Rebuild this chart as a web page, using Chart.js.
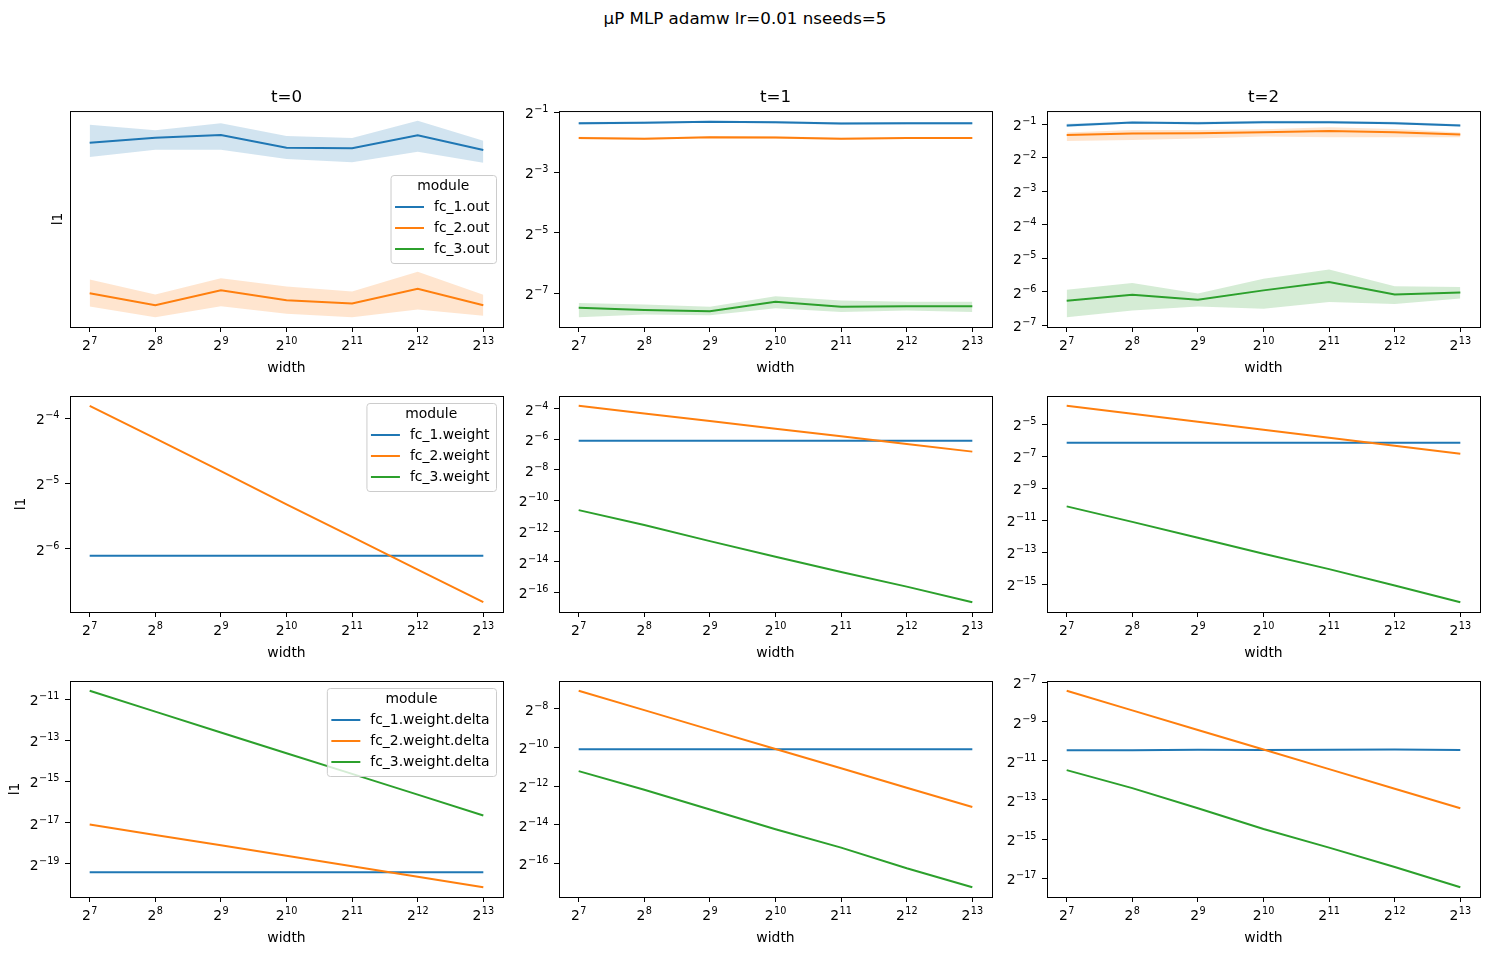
<!DOCTYPE html>
<html>
<head>
<meta charset="utf-8">
<script src="https://cdn.jsdelivr.net/npm/chart.js@4.4.0/dist/chart.umd.min.js"></script>
<style>
  body { margin: 0; background: #fff; width: 1490px; height: 955px; position: relative; overflow: hidden; font-family: 'DejaVu Sans', sans-serif; }
  #suptitle { position: absolute; left: 0; top: 8px; width: 1490px; text-align: center; font-size: 16.7px; line-height: 20px; color: #000; }
  canvas { position: absolute; }
</style>
</head>
<body>
<div id="suptitle">μP MLP adamw lr=0.01 nseeds=5</div>
<script>
// x values and labels
const widths = [128, 256, 512, 1024, 2048, 4096, 8192];
const tTitles = ['t=0', 't=1', 't=2'];
const outNames = ['fc_1.out', 'fc_2.out', 'fc_3.out'];
const weightNames = ['fc_1.weight', 'fc_2.weight', 'fc_3.weight'];
const deltaNames = ['fc_1.weight.delta', 'fc_2.weight.delta', 'fc_3.weight.delta'];

// all values are log2(l1); _lo/_hi are the shaded band edges
// row 1: module outputs
const out0_fc1    = [-1.200, -1.180, -1.169, -1.220, -1.222, -1.170, -1.229];
const out0_fc1_lo = [-1.257, -1.228, -1.228, -1.265, -1.278, -1.236, -1.280];
const out0_fc1_hi = [-1.128, -1.150, -1.122, -1.173, -1.181, -1.112, -1.192];
const out0_fc2    = [-1.804, -1.852, -1.792, -1.832, -1.845, -1.786, -1.852];
const out0_fc2_lo = [-1.857, -1.900, -1.856, -1.886, -1.900, -1.869, -1.894];
const out0_fc2_hi = [-1.749, -1.809, -1.744, -1.777, -1.797, -1.718, -1.810];

const out1_fc1    = [-1.37, -1.35, -1.32, -1.34, -1.38, -1.37, -1.37];
const out1_fc1_lo = [-1.42, -1.39, -1.35, -1.38, -1.42, -1.41, -1.41];
const out1_fc1_hi = [-1.33, -1.31, -1.29, -1.30, -1.34, -1.33, -1.33];
const out1_fc2    = [-1.86, -1.885, -1.83, -1.84, -1.885, -1.86, -1.86];
const out1_fc2_lo = [-1.90, -1.92, -1.86, -1.88, -1.92, -1.89, -1.89];
const out1_fc2_hi = [-1.82, -1.85, -1.80, -1.80, -1.85, -1.83, -1.83];
const out1_fc3    = [-7.49, -7.56, -7.60, -7.29, -7.45, -7.44, -7.44];
const out1_fc3_lo = [-7.80, -7.71, -7.74, -7.50, -7.63, -7.58, -7.63];
const out1_fc3_hi = [-7.33, -7.38, -7.45, -7.11, -7.25, -7.29, -7.29];

const out2_fc1    = [-1.04, -0.95, -0.97, -0.94, -0.94, -0.97, -1.04];
const out2_fc1_lo = [-1.08, -0.98, -1.01, -0.97, -0.98, -1.00, -1.07];
const out2_fc1_hi = [-0.99, -0.92, -0.93, -0.90, -0.90, -0.93, -1.00];
const out2_fc2    = [-1.32, -1.28, -1.27, -1.24, -1.20, -1.24, -1.31];
const out2_fc2_lo = [-1.50, -1.47, -1.43, -1.37, -1.39, -1.39, -1.39];
const out2_fc2_hi = [-1.25, -1.17, -1.17, -1.15, -1.09, -1.14, -1.25];
const out2_fc3    = [-6.27, -6.09, -6.24, -5.96, -5.71, -6.08, -6.02];
const out2_fc3_lo = [-6.76, -6.56, -6.44, -6.51, -6.31, -6.37, -6.20];
const out2_fc3_hi = [-5.94, -5.74, -6.05, -5.61, -5.34, -5.84, -5.86];

// row 2: weights
const w0_fc1 = [-6.11, -6.11, -6.11, -6.11, -6.11, -6.11, -6.11];
const w0_fc2 = [-3.81, -4.31, -4.81, -5.32, -5.82, -6.32, -6.82];
const w1_fc1 = [-6.09, -6.09, -6.09, -6.09, -6.09, -6.09, -6.09];
const w1_fc2 = [-3.80, -4.30, -4.80, -5.30, -5.80, -6.30, -6.80];
const w1_fc3 = [-10.63, -11.61, -12.66, -13.68, -14.68, -15.64, -16.66];
const w2_fc1 = [-6.14, -6.14, -6.14, -6.14, -6.14, -6.14, -6.14];
const w2_fc2 = [-3.83, -4.33, -4.83, -5.33, -5.83, -6.33, -6.83];
const w2_fc3 = [-10.13, -11.10, -12.10, -13.10, -14.06, -15.08, -16.13];

// row 3: weight deltas
const d0_fc1 = [-19.41, -19.41, -19.41, -19.41, -19.41, -19.41, -19.41];
const d0_fc2 = [-17.09, -17.60, -18.10, -18.60, -19.11, -19.62, -20.13];
const d0_fc3 = [-10.60, -11.61, -12.62, -13.63, -14.63, -15.64, -16.65];
const d1_fc1 = [-10.09, -10.09, -10.09, -10.09, -10.09, -10.09, -10.09];
const d1_fc2 = [-7.07, -8.07, -9.08, -10.08, -11.08, -12.09, -13.09];
const d1_fc3 = [-11.23, -12.19, -13.22, -14.24, -15.19, -16.26, -17.24];
const d2_fc1 = [-10.46, -10.46, -10.44, -10.45, -10.44, -10.43, -10.45];
const d2_fc2 = [-7.43, -8.43, -9.43, -10.43, -11.43, -12.43, -13.43];
const d2_fc3 = [-11.48, -12.40, -13.43, -14.49, -15.44, -16.43, -17.46];

// tick exponents (labels are 2^e)
const xTickExps = [7, 8, 9, 10, 11, 12, 13];
const yTicksOut = [[], [-1, -3, -5, -7], [-1, -2, -3, -4, -5, -6, -7]];
const yTicksWeight = [[-4, -5, -6], [-4, -6, -8, -10, -12, -14, -16], [-5, -7, -9, -11, -13, -15]];
const yTicksDelta = [[-11, -13, -15, -17, -19], [-8, -10, -12, -14, -16], [-7, -9, -11, -13, -15, -17]];

const FONT = "'DejaVu Sans', sans-serif";
Chart.defaults.font.family = FONT;
Chart.defaults.color = '#000';

const COLORS = ['#1f77b4', '#ff7f0e', '#2ca02c'];
const BANDS = ['rgba(31,119,180,0.2)', 'rgba(255,127,14,0.2)', 'rgba(44,160,44,0.2)'];

const colLeft = [70, 559, 1047];
const rowTop = [111, 396, 681];
const AX_W = 433, AX_H = 216;
const PAD_L = 70, PAD_T = 30, PAD_R = 20, PAD_B = 52;
const ylabelPad = [50, 13.4, 6.7];

// "2" with a raised exponent, like matplotlib's mathtext tick labels
function drawPow2(ctx, px, baseY, align, e) {
  const exp = String(e).replace('-', '\u2212');
  ctx.font = '13.9px ' + FONT;
  const wb = ctx.measureText('2').width;
  ctx.font = '9.7px ' + FONT;
  const we = ctx.measureText(exp).width;
  const total = wb + 0.5 + we;
  const left = align === 'center' ? px - total / 2 : px - total;
  ctx.textAlign = 'left';
  ctx.textBaseline = 'alphabetic';
  ctx.font = '13.9px ' + FONT;
  ctx.fillText('2', left, baseY);
  ctx.font = '9.7px ' + FONT;
  ctx.fillText(exp, left + wb + 0.5, baseY - 6);
}

function tickLabelPlugin(showY) {
  return {
    id: 'mathTicks',
    afterDraw(chart) {
      const ctx = chart.ctx, a = chart.chartArea;
      const { x, y } = chart.scales;
      ctx.save();
      ctx.fillStyle = '#000';
      x.ticks.forEach(t => drawPow2(ctx, x.getPixelForValue(t.value), a.bottom + 23, 'center', Math.round(Math.log2(t.value))));
      if (showY) {
        y.ticks.forEach(t => drawPow2(ctx, a.left - 10.5, y.getPixelForValue(t.value) + 6, 'right', Math.round(Math.log2(t.value))));
      }
      ctx.restore();
    }
  };
}

// [mean, lo, hi] per module; null where the module has no line
const panels = [
  { row: 0, col: 0, names: outNames, yTicks: yTicksOut[0], legend: 'center right',
    series: [[out0_fc1, out0_fc1_lo, out0_fc1_hi], [out0_fc2, out0_fc2_lo, out0_fc2_hi], null] },
  { row: 0, col: 1, yTicks: yTicksOut[1],
    series: [[out1_fc1, out1_fc1_lo, out1_fc1_hi], [out1_fc2, out1_fc2_lo, out1_fc2_hi], [out1_fc3, out1_fc3_lo, out1_fc3_hi]] },
  { row: 0, col: 2, yTicks: yTicksOut[2],
    series: [[out2_fc1, out2_fc1_lo, out2_fc1_hi], [out2_fc2, out2_fc2_lo, out2_fc2_hi], [out2_fc3, out2_fc3_lo, out2_fc3_hi]] },
  { row: 1, col: 0, names: weightNames, yTicks: yTicksWeight[0], legend: 'upper right',
    series: [[w0_fc1], [w0_fc2], null] },
  { row: 1, col: 1, yTicks: yTicksWeight[1], series: [[w1_fc1], [w1_fc2], [w1_fc3]] },
  { row: 1, col: 2, yTicks: yTicksWeight[2], series: [[w2_fc1], [w2_fc2], [w2_fc3]] },
  { row: 2, col: 0, names: deltaNames, yTicks: yTicksDelta[0], legend: 'upper right',
    series: [[d0_fc1], [d0_fc2], [d0_fc3]] },
  { row: 2, col: 1, yTicks: yTicksDelta[1], series: [[d1_fc1], [d1_fc2], [d1_fc3]] },
  { row: 2, col: 2, yTicks: yTicksDelta[2], series: [[d2_fc1], [d2_fc2], [d2_fc3]] },
];

const toPoints = exps => exps.map((e, i) => ({ x: widths[i], y: Math.pow(2, e) }));

const framePlugin = {
  id: 'frame',
  afterDatasetsDraw(chart) {
    const a = chart.chartArea, ctx = chart.ctx;
    ctx.save();
    ctx.strokeStyle = '#000';
    ctx.lineWidth = 1;
    ctx.strokeRect(a.left + 0.5, a.top + 0.5, a.right - a.left, a.bottom - a.top);
    ctx.restore();
  }
};

function legendPlugin(names, loc) {
  return {
    id: 'mplLegend',
    afterDraw(chart) {
      const ctx = chart.ctx, a = chart.chartArea;
      ctx.save();
      ctx.font = '13.9px ' + FONT;
      const tw = Math.max(...names.map(n => ctx.measureText(n).width));
      const w = 4.5 + 29 + 10 + tw + 6.5, h = 88;
      const x = a.right - 7 - w;
      const y = loc === 'center right' ? (a.top + a.bottom) / 2 - h / 2 : a.top + 7;
      ctx.beginPath();
      ctx.roundRect(x + 0.5, y + 0.5, w, h, 3);
      ctx.fillStyle = 'rgba(255,255,255,0.8)';
      ctx.fill();
      ctx.strokeStyle = '#cccccc';
      ctx.lineWidth = 1;
      ctx.stroke();
      ctx.fillStyle = '#000';
      ctx.textBaseline = 'middle';
      ctx.textAlign = 'center';
      ctx.fillText('module', x + w / 2, y + 11);
      ctx.textAlign = 'left';
      names.forEach((n, i) => {
        const cy = y + 32 + 21 * i;
        ctx.strokeStyle = COLORS[i];
        ctx.lineWidth = 2;
        ctx.beginPath();
        ctx.moveTo(x + 4.5, cy);
        ctx.lineTo(x + 33.5, cy);
        ctx.stroke();
        ctx.fillText(n, x + 43.5, cy);
      });
      ctx.restore();
    }
  };
}

const tickFont = { family: FONT, size: 13.9 };
const tickGrid = { display: true, drawOnChartArea: false, drawTicks: true, tickLength: 5, color: '#000', lineWidth: 1 };

panels.forEach(p => {
  const datasets = [];
  const allExps = [];
  p.series.forEach((s, k) => {
    if (!s) return;
    const [mean, lo, hi] = s;
    allExps.push(...mean);
    if (lo && hi) {
      allExps.push(...lo, ...hi);
      datasets.push({ data: toPoints(lo), borderWidth: 0, pointRadius: 0, fill: false, order: 10 });
      datasets.push({ data: toPoints(hi), borderWidth: 0, pointRadius: 0, fill: '-1', backgroundColor: BANDS[k], order: 10 });
    }
    datasets.push({ data: toPoints(mean), borderColor: COLORS[k], borderWidth: 2, pointRadius: 0,
      fill: false, tension: 0, order: 3 - k });
  });
  const lo = Math.min(...allExps), hi = Math.max(...allExps), pad = (hi - lo) * 0.05;
  const yMin = Math.pow(2, lo - pad), yMax = Math.pow(2, hi + pad);
  const xMin = Math.pow(2, 6.7), xMax = Math.pow(2, 13.3);
  const hasYTicks = p.yTicks.length > 0;

  const c = document.createElement('canvas');
  c.width = PAD_L + AX_W + PAD_R;
  c.height = PAD_T + AX_H + PAD_B;
  c.style.left = (colLeft[p.col] - PAD_L) + 'px';
  c.style.top = (rowTop[p.row] - PAD_T) + 'px';
  document.body.appendChild(c);

  const plugins = [framePlugin, tickLabelPlugin(hasYTicks)];
  if (p.names) plugins.push(legendPlugin(p.names, p.legend));

  new Chart(c, {
    type: 'line',
    data: { datasets },
    plugins,
    options: {
      responsive: false,
      animation: false,
      devicePixelRatio: 1,
      layout: { padding: { top: p.row === 0 ? 0 : PAD_T, right: PAD_R, left: 0, bottom: 0 } },
      plugins: {
        legend: { display: false },
        tooltip: { enabled: false },
        title: { display: p.row === 0, fullSize: false, text: tTitles[p.col], color: '#000',
          font: { family: FONT, size: 16.7, weight: 'normal' }, padding: { top: 7, bottom: 3 } }
      },
      scales: {
        x: {
          type: 'logarithmic', min: xMin, max: xMax, bounds: 'data',
          afterBuildTicks: ax => { ax.ticks = xTickExps.map(e => ({ value: Math.pow(2, e) })); ax.min = xMin; ax.max = xMax; },
          afterFit: ax => { ax.height = PAD_B; },
          ticks: { display: false, autoSkip: false, maxRotation: 0 },
          grid: tickGrid,
          border: { display: false },
          title: { display: true, text: 'width', color: '#000', font: tickFont, padding: { top: 0, bottom: 2 } }
        },
        y: {
          type: 'logarithmic', min: yMin, max: yMax, bounds: 'data',
          afterBuildTicks: ax => {
            if (hasYTicks) ax.ticks = p.yTicks.map(e => ({ value: Math.pow(2, e) }));
            ax.min = yMin; ax.max = yMax;
          },
          afterFit: ax => { ax.width = PAD_L; },
          ticks: { display: false, autoSkip: false },
          grid: hasYTicks ? tickGrid : { display: false },
          border: { display: false },
          title: { display: p.col === 0, text: 'l1', color: '#000', font: tickFont,
            padding: { top: ylabelPad[p.row], bottom: 0 } }
        }
      }
    }
  });
});
</script>
</body>
</html>
